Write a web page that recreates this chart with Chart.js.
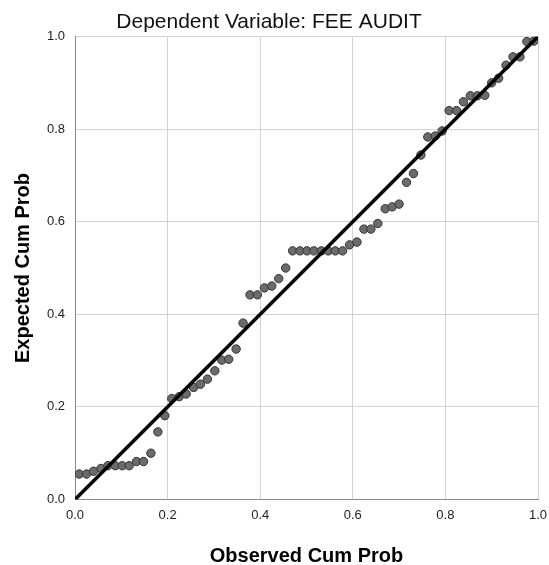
<!DOCTYPE html>
<html>
<head>
<meta charset="utf-8">
<script src="https://cdn.jsdelivr.net/npm/chart.js@4.4.1/dist/chart.umd.min.js"></script>
<style>
  html, body { margin: 0; padding: 0; background: #fff; }
  #ppChart { display: block; }
</style>
</head>
<body>
<canvas id="ppChart" width="549" height="565"></canvas>
<script>
const chartTitle = "Dependent Variable: FEE AUDIT";
const xTitle = "Observed Cum Prob";
const yTitle = "Expected Cum Prob";
const tickValues = [0, 0.2, 0.4, 0.6, 0.8, 1.0];

// observed cumulative probability (x) for each case
const obsCum = [0.009, 0.025, 0.040, 0.056, 0.071, 0.087, 0.102, 0.117, 0.133, 0.148,
  0.164, 0.179, 0.194, 0.209, 0.225, 0.240, 0.256, 0.271, 0.286, 0.302,
  0.317, 0.332, 0.348, 0.363, 0.378, 0.394, 0.409, 0.425, 0.440, 0.455,
  0.470, 0.486, 0.501, 0.516, 0.532, 0.547, 0.562, 0.578, 0.593, 0.609,
  0.624, 0.639, 0.654, 0.670, 0.685, 0.700, 0.716, 0.731, 0.747, 0.762,
  0.778, 0.793, 0.808, 0.824, 0.839, 0.854, 0.869, 0.885, 0.900, 0.915,
  0.931, 0.946, 0.961, 0.976, 0.991];

// expected cumulative probability (y)
const expCum = [0.055, 0.055, 0.061, 0.067, 0.073, 0.073, 0.073, 0.073, 0.082, 0.082,
  0.100, 0.146, 0.181, 0.218, 0.222, 0.228, 0.242, 0.249, 0.260, 0.278,
  0.301, 0.303, 0.325, 0.381, 0.442, 0.442, 0.457, 0.461, 0.477, 0.500,
  0.537, 0.537, 0.537, 0.537, 0.537, 0.537, 0.537, 0.537, 0.550, 0.556,
  0.584, 0.584, 0.596, 0.628, 0.632, 0.638, 0.685, 0.704, 0.744, 0.783,
  0.785, 0.796, 0.840, 0.840, 0.859, 0.872, 0.872, 0.873, 0.900, 0.910,
  0.938, 0.956, 0.956, 0.989, 0.990];

// reference line y = x
const refLine = [0, 1];

const FONT = "'Liberation Sans', Arial, sans-serif";

const points = obsCum.map((x, i) => ({ x: x, y: expCum[i] }));
const linePts = refLine.map(v => ({ x: v, y: v }));

new Chart(document.getElementById("ppChart"), {
  type: "scatter",
  data: {
    datasets: [
      {
        data: linePts,
        showLine: true,
        borderColor: "#000",
        borderWidth: 3.5,
        pointRadius: 0,
        order: 0
      },
      {
        data: points,
        pointRadius: 4.2,
        pointBackgroundColor: "#6b6b6b",
        pointBorderColor: "#333",
        pointBorderWidth: 1,
        order: 1
      }
    ]
  },
  options: {
    responsive: false,
    animation: false,
    devicePixelRatio: 1,
    layout: { padding: { left: 0, right: 11, top: 0, bottom: 0 } },
    plugins: {
      legend: { display: false },
      tooltip: { enabled: false },
      title: {
        display: true,
        text: chartTitle,
        color: "#111",
        font: { family: FONT, size: 21, weight: "normal", lineHeight: 1.2 },
        padding: { top: 10, bottom: 1.3 }
      }
    },
    scales: {
      x: {
        type: "linear",
        min: 0,
        max: 1,
        afterBuildTicks: s => { s.ticks = tickValues.map(v => ({ value: v })); },
        afterFit: s => { s.height = 65.5; s.paddingLeft = 0; s.paddingRight = 0; },
        ticks: {
          color: "#222",
          font: { family: FONT, size: 13 },
          padding: 8,
          maxRotation: 0,
          callback: v => Number(v).toFixed(1)
        },
        grid: { color: "#d3d3d3", lineWidth: 1, drawTicks: false },
        border: { color: "#8a8a8a", width: 1 },
        title: {
          display: true,
          text: xTitle,
          color: "#000",
          font: { family: FONT, size: 20, weight: "bold", lineHeight: 1.2 },
          padding: { top: 0, bottom: -3 }
        }
      },
      y: {
        type: "linear",
        min: 0,
        max: 1,
        afterBuildTicks: s => { s.ticks = tickValues.map(v => ({ value: v })); },
        afterFit: s => { s.width = 75; s.paddingTop = 0; s.paddingBottom = 0; },
        ticks: {
          color: "#222",
          font: { family: FONT, size: 13 },
          padding: 10,
          callback: v => Number(v).toFixed(1)
        },
        grid: { color: "#d3d3d3", lineWidth: 1, drawTicks: false },
        border: { color: "#8a8a8a", width: 1 },
        title: {
          display: true,
          text: yTitle,
          color: "#000",
          font: { family: FONT, size: 20, weight: "bold", lineHeight: 1.2 },
          padding: { top: 11, bottom: 0 }
        }
      }
    }
  }
});
</script>
</body>
</html>
